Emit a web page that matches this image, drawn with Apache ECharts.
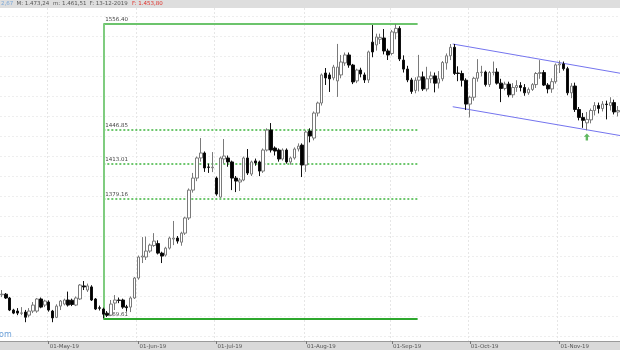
<!DOCTYPE html>
<html><head><meta charset="utf-8">
<script src="https://cdn.jsdelivr.net/npm/echarts/dist/echarts.min.js"></script>
<style>html,body{margin:0;padding:0;background:#fff}#c{width:620px;height:350px}</style>
</head><body><div id="c"></div>
<script>
// ---- calendar (trading days) ----
const firstDay = '2019-04-15';
const lastDay = '2019-11-22';
const closedDays = ['2019-09-02'];
const monthNames = ['Jan','Feb','Mar','Apr','May','Jun','Jul','Aug','Sep','Oct','Nov','Dec'];

// ---- daily candles: [open, close, low, high] ----
const ohlc = [
[1290.5,1291.0,1288.4,1294.7],[1291.0,1287.6,1286.7,1292.0],[1287.6,1276.9,1276.0,1288.5],[1276.9,1274.2,1273.3,1278.0],
[1276.0,1274.2,1272.4,1278.6],[1274.0,1274.4,1272.4,1279.5],[1275.1,1270.6,1266.2,1277.0],[1272.4,1276.0,1270.5,1278.6],
[1276.0,1281.3,1274.2,1284.0],[1276.0,1286.7,1274.5,1287.6],[1286.7,1279.5,1278.5,1288.0],[1281.3,1284.9,1279.5,1286.0],
[1284.0,1276.9,1275.5,1285.5],[1276.0,1270.0,1266.2,1277.0],[1270.5,1280.4,1269.8,1282.0],[1280.4,1284.9,1276.9,1285.8],
[1282.2,1285.8,1281.0,1287.0],[1285.8,1281.3,1280.0,1293.3],[1285.6,1281.8,1280.4,1287.0],[1281.3,1287.6,1280.4,1289.0],
[1286.7,1299.2,1285.8,1300.1],[1298.4,1297.5,1294.7,1302.8],[1294.7,1298.4,1293.0,1300.5],[1297.5,1285.8,1284.9,1299.0],
[1286.7,1277.8,1276.9,1287.6],[1278.9,1278.5,1276.5,1280.8],[1277.8,1273.3,1269.61,1279.0],[1274.0,1272.4,1270.8,1276.0],
[1272.4,1282.2,1271.5,1285.8],[1283.1,1285.8,1276.9,1290.2],[1285.8,1285.4,1283.0,1288.0],[1285.8,1279.5,1278.0,1287.0],
[1279.8,1279.0,1275.5,1281.5],[1279.5,1287.6,1275.1,1289.0],[1287.6,1305.5,1286.7,1306.5],[1305.5,1324.6,1304.0,1326.0],
[1324.6,1325.5,1319.1,1343.0],[1324.6,1330.1,1321.9,1343.5],[1330.1,1335.6,1328.5,1337.0],[1335.2,1339.3,1334.0,1346.7],
[1337.0,1328.2,1327.0,1340.0],[1328.2,1325.5,1319.1,1329.5],[1326.4,1332.8,1325.0,1334.0],[1332.8,1342.1,1331.5,1343.5],
[1341.2,1342.1,1335.6,1358.1],[1342.1,1339.3,1337.0,1344.0],[1338.3,1346.7,1335.0,1348.0],[1346.7,1360.9,1345.0,1362.0],
[1360.9,1387.4,1359.0,1389.0],[1387.4,1399.0,1385.0,1404.0],[1399.0,1418.6,1396.0,1420.0],[1418.6,1423.5,1415.0,1438.3],
[1423.5,1408.8,1405.0,1425.0],[1409.8,1409.4,1404.0,1413.0],[1409.0,1409.6,1404.8,1424.4],[1399.0,1383.6,1382.0,1400.5],
[1380.7,1418.6,1380.0,1420.0],[1417.6,1420.5,1413.0,1437.3],[1418.6,1414.7,1410.0,1421.0],[1414.7,1399.0,1387.4,1416.0],
[1399.0,1396.1,1385.5,1401.0],[1395.2,1397.1,1386.5,1399.0],[1397.1,1418.6,1396.0,1420.0],[1418.6,1403.9,1402.0,1427.4],
[1402.9,1414.7,1401.0,1416.0],[1415.7,1413.7,1411.0,1418.0],[1414.7,1405.8,1400.9,1416.0],[1405.8,1426.4,1404.0,1428.0],
[1426.4,1446.3,1425.0,1448.0],[1446.3,1426.4,1424.0,1453.3],[1428.4,1425.4,1421.0,1430.0],[1426.4,1417.6,1415.0,1428.0],
[1417.6,1426.4,1416.0,1428.0],[1426.4,1414.7,1413.0,1428.0],[1414.7,1418.6,1412.0,1420.0],[1418.6,1427.4,1417.0,1429.0],
[1427.4,1430.3,1425.0,1433.0],[1431.3,1411.7,1400.0,1433.0],[1411.7,1444.3,1405.0,1446.0],[1445.3,1440.3,1434.0,1448.0],
[1438.3,1463.4,1436.0,1465.0],[1463.4,1473.6,1460.0,1475.0],[1473.6,1502.5,1471.0,1504.0],[1504.5,1499.4,1492.1,1509.7],
[1502.5,1498.4,1484.9,1505.0],[1499.4,1510.7,1497.0,1513.0],[1496.3,1510.7,1479.8,1535.1],[1502.5,1516.0,1499.0,1523.4],
[1515.0,1523.4,1512.0,1526.0],[1523.4,1512.8,1510.0,1526.0],[1512.8,1495.2,1493.0,1514.0],[1496.3,1507.6,1494.0,1509.0],
[1507.6,1503.5,1500.0,1510.0],[1502.5,1497.3,1494.2,1505.0],[1497.3,1526.6,1494.2,1528.0],[1537.0,1526.6,1521.0,1555.3],
[1534.0,1542.5,1528.0,1546.0],[1540.0,1542.0,1535.0,1546.0],[1541.4,1527.6,1524.0,1551.0],[1527.6,1523.4,1518.1,1530.0],
[1525.0,1547.9,1523.0,1550.0],[1547.0,1551.7,1540.0,1556.4],[1551.7,1519.2,1517.0,1554.0],[1518.0,1508.6,1505.0,1523.0],
[1508.6,1497.3,1495.0,1512.0],[1497.3,1485.5,1483.0,1499.5],[1486.5,1497.0,1483.5,1500.0],[1497.0,1500.5,1485.5,1523.5],
[1500.5,1488.0,1486.0,1506.0],[1488.0,1498.5,1485.5,1511.0],[1498.5,1501.5,1494.0,1506.0],[1501.5,1494.0,1484.5,1505.0],
[1494.0,1498.5,1488.5,1506.5],[1498.5,1515.5,1496.0,1517.0],[1515.0,1522.5,1508.0,1525.0],[1522.5,1531.5,1518.0,1535.0],
[1531.5,1504.0,1502.5,1535.0],[1504.5,1504.0,1496.0,1511.5],[1504.0,1497.0,1490.5,1507.0],[1497.0,1472.5,1466.5,1499.0],
[1472.5,1479.5,1459.0,1481.0],[1479.5,1499.0,1476.0,1500.5],[1499.0,1505.0,1495.5,1519.0],[1505.0,1505.5,1501.0,1512.0],
[1505.5,1492.5,1490.5,1507.0],[1492.5,1505.0,1490.0,1506.5],[1505.0,1505.5,1502.0,1516.5],[1505.5,1494.0,1492.5,1509.5],
[1494.0,1488.5,1474.5,1498.5],[1488.5,1493.0,1486.5,1495.5],[1493.0,1482.0,1479.5,1495.5],[1482.0,1489.5,1479.0,1494.0],
[1489.5,1491.5,1485.0,1497.0],[1491.5,1489.5,1485.5,1495.0],[1489.5,1484.0,1481.0,1493.0],[1484.0,1487.5,1482.0,1489.5],
[1487.5,1492.5,1486.0,1494.0],[1492.5,1504.0,1489.0,1505.5],[1504.0,1505.0,1498.5,1518.0],[1505.0,1492.0,1491.0,1507.5],
[1492.0,1488.0,1483.5,1494.0],[1488.0,1495.5,1484.0,1499.0],[1495.5,1513.0,1493.5,1514.5],[1513.0,1514.0,1504.5,1517.5],
[1514.0,1509.0,1507.0,1516.5],[1509.0,1484.0,1481.5,1511.0],[1484.0,1491.0,1478.5,1494.0],[1491.0,1467.0,1464.5,1494.5],
[1467.0,1459.0,1456.0,1469.5],[1459.0,1456.0,1448.5,1463.5],[1453.5,1457.0,1446.0,1464.5],[1456.5,1466.0,1453.0,1468.0],
[1466.0,1471.0,1461.0,1474.5],[1471.0,1468.0,1463.0,1474.0],[1468.0,1472.5,1465.0,1475.5],[1472.5,1472.0,1457.0,1476.0],
[1471.0,1474.0,1466.0,1479.5],[1474.0,1464.5,1462.0,1477.0],[1464.5,1466.0,1460.0,1470.5]
];

// ---- Fibonacci retracement (levels, from/to candle index) ----
const fibLevels = [1556.40, 1446.85, 1413.01, 1379.16, 1269.61];
const fibSolid = [true, false, false, false, true];
const fibFrom = 26;
const fibTo = 106.6;

// ---- trend channel: [candle index, price] ----
const channelUpper = [[115.6, 1535.0], [158.5, 1504.3]];
const channelLower = [[115.6, 1469.8], [158.5, 1440.8]];

// ---- buy signal arrow ----
const signal = [[150, 1439.3]];

// ---- header ----
const headerParts = [
  {t: '2,67', c: '#7aa7d8'},
  {t: 'M: 1.473,24', c: '#555'},
  {t: 'm: 1.461,51', c: '#555'},
  {t: 'F: 13-12-2019', c: '#555'},
  {t: 'F: 1.453,80', c: '#e0302a'}
];

// build dates
const dates = [];
(function () {
  const end = new Date(lastDay + 'T00:00:00Z');
  for (let d = new Date(firstDay + 'T00:00:00Z'); d <= end; d.setUTCDate(d.getUTCDate() + 1)) {
    const wd = d.getUTCDay();
    const iso = d.toISOString().slice(0, 10);
    if (wd === 0 || wd === 6 || closedDays.includes(iso)) continue;
    dates.push(iso);
  }
})();
const monthStart = new Set();
dates.forEach((d, i) => { if (i > 0 && d.slice(5, 7) !== dates[i - 1].slice(5, 7)) monthStart.add(i); });
const isTick = (i) => monthStart.has(i);
const tickLabel = (v) => '01-' + monthNames[+v.slice(5, 7) - 1] + '-' + v.slice(2, 4);

const series = [{
  type: 'candlestick',
  xAxisIndex: 0, yAxisIndex: 0,
  data: ohlc,
  barWidth: 3,
  itemStyle: { color: '#ffffff', color0: '#000000', borderColor: '#7a7a7a', borderColor0: '#111111', borderWidth: 1 },
  z: 5
}];

// Fibonacci levels drawn as markLines of one carrier series on the value x-axis
const fibLines = fibLevels.map((lv, k) => [
  { coord: [fibFrom, lv], name: lv.toFixed(2),
    lineStyle: fibSolid[k] ? { color: k === 0 ? '#6cc46c' : '#2ea82e', width: 2, type: 'solid' }
                           : { color: '#3cb43c', width: 1.5, type: [2, 2], opacity: 1 } },
  { coord: [fibTo, lv] }
]);
fibLines.push([
  { coord: [fibFrom, fibLevels[0]], name: '', lineStyle: { color: '#7fcc7f', width: 2, type: 'solid' } },
  { coord: [fibFrom, fibLevels[fibLevels.length - 1]] }
]);
series.push({
  type: 'line', xAxisIndex: 1, yAxisIndex: 0, symbol: 'none', silent: true,
  data: [], z: 4,
  markLine: {
    silent: true, symbol: ['none', 'none'], animation: false,
    label: { show: true, position: 'insideStartTop', formatter: '{b}', distance: [2, 1],
             fontSize: 5.5, color: '#444', fontFamily: 'DejaVu Sans' },
    emphasis: { disabled: true },
    data: fibLines
  }
});
[channelUpper, channelLower].forEach(seg => series.push({
  type: 'line', xAxisIndex: 1, yAxisIndex: 0, symbol: 'none', silent: true,
  data: seg, lineStyle: { color: '#7474ee', width: 1 }, z: 4
}));
series.push({
  type: 'scatter', xAxisIndex: 0, yAxisIndex: 0, silent: true,
  data: signal,
  symbol: 'path://M5,0 L10,5 L7,5 L7,11 L3,11 L3,5 L0,5 Z', symbolSize: [6, 7],
  itemStyle: { color: '#3aa83a' }, z: 6
});
// empty series so the gridline overlay grid is kept
series.push({ type: 'line', xAxisIndex: 2, yAxisIndex: 1, data: [], silent: true });

const header = [];
let hx = 1;
headerParts.forEach(p => {
  header.push({ type: 'text', left: hx, top: 0.5, z: 10,
    style: { text: p.t, fill: p.c, font: '5.5px "DejaVu Sans"' } });
  hx += p.t.length * 3.0 + 3.5;
});

const chart = echarts.init(document.getElementById('c'), null, { renderer: 'canvas' });
chart.setOption({
  animation: false,
  backgroundColor: '#ffffff',
  grid: [
    { left: 0, right: 0, top: 8, bottom: 9 },
    { left: 0, right: 0, top: 16.7, height: 320 }
  ],
  xAxis: [
    {
      type: 'category', gridIndex: 0, data: dates, boundaryGap: true,
      axisLine: { show: true, lineStyle: { color: '#9a9a9a' } },
      axisTick: { show: true, alignWithLabel: true, length: 3, interval: isTick, lineStyle: { color: '#777' } },
      axisLabel: { show: true, interval: isTick, formatter: tickLabel, fontSize: 5.5, color: '#555',
                   align: 'left', margin: 2.5, fontFamily: 'DejaVu Sans', padding: [0, 0, 0, 1] },
      splitLine: { show: true, interval: isTick, lineStyle: { color: '#e6e6e6', type: [2, 2], width: 1 } }
    },
    { type: 'value', gridIndex: 0, min: -0.5, max: 158.5, show: false },
    { type: 'value', gridIndex: 1, min: 0, max: 1, show: false }
  ],
  yAxis: [
    { type: 'log', gridIndex: 0, min: 1249.84, max: 1573.73, show: false },
    { type: 'value', gridIndex: 1, min: 0, max: 320, interval: 20,
      axisLine: { show: false }, axisTick: { show: false }, axisLabel: { show: false },
      splitLine: { show: true, lineStyle: { color: '#eeeeee', type: [2, 2], width: 1 } } }
  ],
  graphic: [
    { type: 'rect', shape: { x: 0, y: 0, width: 620, height: 8 }, style: { fill: '#dedede' }, z: -10 },
    { type: 'rect', shape: { x: 0, y: 341, width: 620, height: 9 }, style: { fill: '#d9d9d9' }, z: -10 },
    { type: 'text', left: -1, top: 331, z: 10, style: { text: 'om', fill: '#6a9fd8', font: '8px "DejaVu Sans"' } }
  ].concat(header),
  series: series
});
</script>
</body></html>
